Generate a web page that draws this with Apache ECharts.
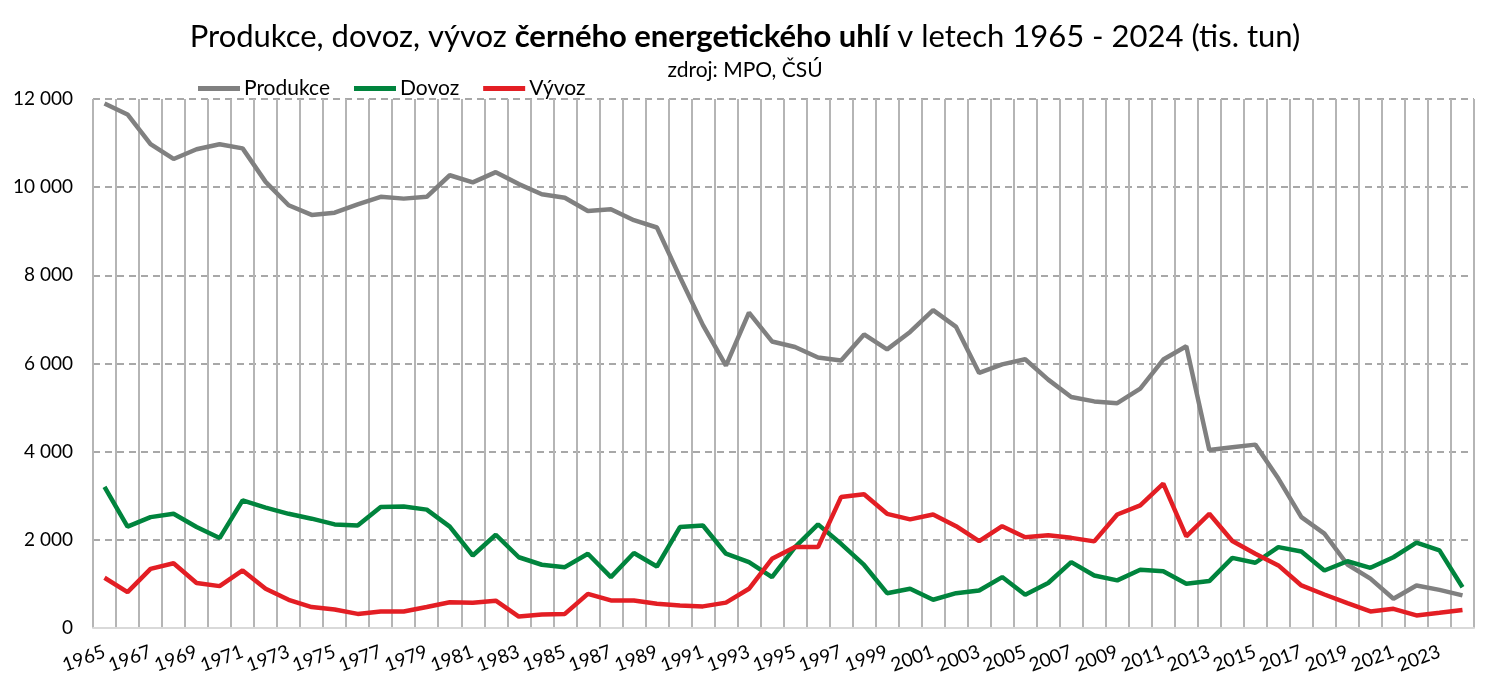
<!DOCTYPE html>
<html>
<head>
<meta charset="utf-8">
<script src="https://cdn.jsdelivr.net/npm/echarts@6/dist/echarts.min.js"></script>
<style>
  html, body { margin: 0; padding: 0; background: #fff; }
  #chart { width: 1490px; height: 694px; }
</style>
</head>
<body>
<div id="chart"></div>
<script>
// roky 1965 - 2024
var roky = [];
for (var r = 1965; r <= 2024; r++) roky.push(String(r));

// tis. tun
var produkce = [
  11900, 11650, 10975, 10640, 10860, 10975, 10880, 10120, 9590, 9370,
  9420, 9610, 9780, 9740, 9780, 10270, 10110, 10340, 10070, 9840,
  9760, 9460, 9500, 9250, 9085, 7960, 6870, 5950, 7155, 6500,
  6375, 6135, 6070, 6660, 6320, 6715, 7210, 6830, 5785, 5980,
  6095, 5635, 5240, 5140, 5100, 5430, 6090, 6390, 4040, 4100,
  4160, 3390, 2515, 2140, 1440, 1120, 665, 965, 865, 740
];
var dovoz = [
  3200, 2300, 2515, 2590, 2290, 2040, 2895, 2730, 2590, 2480,
  2350, 2325, 2745, 2755, 2685, 2300, 1645, 2115, 1605, 1435,
  1380, 1685, 1155, 1700, 1395, 2290, 2325, 1685, 1495, 1155,
  1835, 2350, 1910, 1430, 790, 890, 640, 790, 850, 1155,
  755, 1020, 1495, 1190, 1080, 1320, 1285, 1005, 1065, 1590,
  1480, 1835, 1735, 1305, 1515, 1365, 1605, 1935, 1760, 925
];
var vyvoz = [
  1140, 815, 1340, 1470, 1020, 950, 1305, 890, 640, 475,
  420, 320, 375, 375, 475, 585, 575, 620, 260, 305,
  320, 775, 625, 625, 550, 510, 490, 575, 890, 1570,
  1835, 1835, 2970, 3035, 2590, 2465, 2575, 2310, 1970, 2310,
  2060, 2105, 2045, 1965, 2575, 2780, 3275, 2080, 2590, 1975,
  1685, 1420, 965, 760, 565, 375, 435, 285, 345, 410
];

var font = 'Lato, "Noto Sans", sans-serif';

var myChart = echarts.init(document.getElementById('chart'));

var option = {
  backgroundColor: '#fff',
  animation: false,
  textStyle: { fontFamily: font },
  title: [{
    text: 'Produkce, dovoz, vývoz {b|černého energetického uhlí} v letech 1965 - 2024 (tis. tun)',
    left: 'center',
    top: 16,
    textStyle: {
      fontFamily: font,
      fontSize: 31,
      fontWeight: 'normal',
      color: '#000',
      rich: {
        b: { fontFamily: font, fontSize: 31, fontWeight: 'bold', color: '#000' }
      }
    }
  }, {
    text: 'zdroj: MPO, ČSÚ',
    left: 'center',
    top: 55,
    textStyle: { fontFamily: font, fontSize: 21, fontWeight: 'normal', color: '#000' }
  }],
  legend: {
    left: 193,
    top: 73,
    icon: 'rect',
    itemWidth: 42,
    itemHeight: 5,
    itemGap: 24,
    textStyle: { fontFamily: font, fontSize: 21, color: '#000', padding: [0, 0, 0, -1] },
    data: ['Produkce', 'Dovoz', 'Vývoz']
  },
  grid: {
    left: 93,
    right: 16,
    top: 99,
    bottom: 66
  },
  xAxis: {
    type: 'category',
    data: roky,
    boundaryGap: true,
    axisLine: { lineStyle: { color: '#d9d9d9', width: 2 } },
    axisTick: { show: false },
    axisLabel: {
      interval: 0,
      rotate: 20,
      fontSize: 19,
      color: '#000',
      margin: 23,
      hideOverlap: false,
      // popisek jen u každého druhého roku
      formatter: function (val, idx) {
        return idx % 2 === 0 ? val : '';
      }
    },
    splitLine: {
      show: true,
      interval: 0,
      lineStyle: { color: '#b5b5b5', width: 2, type: 'solid' }
    }
  },
  yAxis: {
    type: 'value',
    min: 0,
    max: 12000,
    interval: 2000,
    axisLine: { show: false },
    axisTick: { show: false },
    axisLabel: {
      fontSize: 19,
      color: '#000',
      margin: 20,
      formatter: function (v) {
        return String(v).replace(/\B(?=(\d{3})+(?!\d))/g, ' ');
      }
    },
    splitLine: {
      lineStyle: { color: '#8c8c8c', width: 1.5, type: [7, 5] }
    }
  },
  series: [{
    name: 'Produkce',
    type: 'line',
    data: produkce,
    symbol: 'none',
    color: '#808080',
    lineStyle: { width: 4.5, color: '#808080' }
  }, {
    name: 'Dovoz',
    type: 'line',
    data: dovoz,
    symbol: 'none',
    color: '#00843d',
    lineStyle: { width: 4.5, color: '#00843d' }
  }, {
    name: 'Vývoz',
    type: 'line',
    data: vyvoz,
    symbol: 'none',
    color: '#e31e24',
    lineStyle: { width: 4.5, color: '#e31e24' }
  }]
};

myChart.setOption(option);
</script>
</body>
</html>
